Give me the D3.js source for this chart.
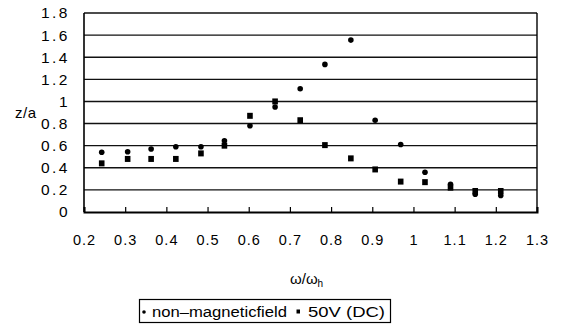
<!DOCTYPE html>
<html>
<head>
<meta charset="utf-8">
<script src="https://cdn.jsdelivr.net/npm/d3@7"></script>
<style>
  html, body { margin: 0; padding: 0; background: #fff; }
  svg { display: block; font-family: "Liberation Sans", Arial, sans-serif; }
</style>
</head>
<body>
<svg id="chart" width="564" height="329"></svg>
<script>
// ---- data ----
const omegaRatio = [0.243, 0.306, 0.363, 0.423, 0.484, 0.541, 0.603, 0.664, 0.725, 0.785, 0.848, 0.907, 0.969, 1.028, 1.09, 1.15, 1.212];
const nonMagneticField = [0.54, 0.545, 0.57, 0.59, 0.59, 0.645, 0.78, 0.95, 1.115, 1.335, 1.555, 0.83, 0.61, 0.36, 0.25, 0.16, 0.15];
const dc50V = [0.44, 0.48, 0.48, 0.48, 0.53, 0.60, 0.87, 1.0, 0.83, 0.605, 0.485, 0.385, 0.275, 0.27, 0.22, 0.19, 0.19];
const xTicks = [0.2, 0.3, 0.4, 0.5, 0.6, 0.7, 0.8, 0.9, 1.0, 1.1, 1.2, 1.3];
const yTicks = [0, 0.2, 0.4, 0.6, 0.8, 1.0, 1.2, 1.4, 1.6, 1.8];
const seriesNames = ["non\u2013magneticfield", "50V (DC)"];

const svg = d3.select("#chart");
const x = d3.scaleLinear().domain([0.2, 1.3]).range([84, 537]);
const y = d3.scaleLinear().domain([0, 1.8]).range([212, 13]);
const fmt = v => (Math.abs(v - Math.round(v)) < 1e-9 ? String(Math.round(v)) : String(+v.toFixed(1)));

// gridlines
svg.append("g").selectAll("line").data(yTicks.filter(d => d > 0)).join("line")
  .attr("x1", x(0.2)).attr("x2", x(1.3))
  .attr("y1", d => y(d)).attr("y2", d => y(d))
  .attr("stroke", "#111").attr("stroke-width", 1.4);

// borders
svg.append("line").attr("x1", x(0.2)).attr("x2", x(0.2)).attr("y1", y(1.8)).attr("y2", y(0))
  .attr("stroke", "#000").attr("stroke-width", 1.6);
svg.append("line").attr("x1", x(1.3)).attr("x2", x(1.3)).attr("y1", y(1.8)).attr("y2", y(0))
  .attr("stroke", "#000").attr("stroke-width", 1.4);

// x axis
const xAxis = d3.axisBottom(x).tickValues(xTicks).tickSize(-5).tickPadding(23).tickFormat(fmt);
const gx = svg.append("g").attr("transform", `translate(0,${y(0)})`).call(xAxis);
gx.select(".domain").attr("stroke", "#000").attr("stroke-width", 2);
gx.selectAll(".tick line").attr("stroke", "#000").attr("stroke-width", 1.2);
gx.selectAll(".tick text").attr("font-size", 14.5).attr("fill", "#000")
  .attr("font-family", "'Liberation Sans', Arial, sans-serif")
  .style("letter-spacing", "1px");

// y axis labels
const yAxis = d3.axisLeft(y).tickValues(yTicks).tickSize(0).tickPadding(14).tickFormat(fmt);
const gy = svg.append("g").attr("transform", `translate(${x(0.2)},0)`).call(yAxis);
gy.select(".domain").remove();
gy.selectAll(".tick text").attr("font-size", 15.5).attr("fill", "#000")
  .attr("font-family", "'Liberation Sans', Arial, sans-serif")
  .style("letter-spacing", "2.5px");

// axis titles
svg.append("text").attr("x", 15).attr("y", 118).attr("font-size", 15).attr("fill", "#000")
  .style("letter-spacing", "0.5px").text("z/a");
const xt = svg.append("text").attr("x", 290).attr("y", 284).attr("font-size", 15).attr("fill", "#000");
xt.append("tspan").text("\u03c9/\u03c9");
xt.append("tspan").attr("font-size", 10).attr("dy", 3).text("h");

// data marks
const pts = omegaRatio.map((v, i) => ({ x: v, a: nonMagneticField[i], b: dc50V[i] }));
svg.append("g").selectAll("rect").data(pts).join("rect")
  .attr("x", d => x(d.x) - 2.8).attr("y", d => y(d.b) - 3).attr("width", 5.6).attr("height", 6)
  .attr("fill", "#000");
svg.append("g").selectAll("circle").data(pts).join("circle")
  .attr("cx", d => x(d.x)).attr("cy", d => y(d.a)).attr("r", 2.8)
  .attr("fill", "#000");

// legend
const lg = svg.append("g");
lg.append("rect").attr("x", 139.5).attr("y", 299.5).attr("width", 251).attr("height", 23)
  .attr("fill", "#fff").attr("stroke", "#000").attr("stroke-width", 1.2);
lg.append("circle").attr("cx", 144).attr("cy", 312).attr("r", 1.8).attr("fill", "#000");
lg.append("text").attr("x", 152).attr("y", 317).attr("font-size", 14).attr("fill", "#000")
  .attr("textLength", 135).attr("lengthAdjust", "spacingAndGlyphs").text(seriesNames[0]);
lg.append("rect").attr("x", 296.5).attr("y", 309.5).attr("width", 3.5).attr("height", 4).attr("fill", "#000");
lg.append("text").attr("x", 308).attr("y", 317).attr("font-size", 14).attr("fill", "#000")
  .attr("textLength", 77).attr("lengthAdjust", "spacingAndGlyphs").text(seriesNames[1]);
</script>
</body>
</html>
